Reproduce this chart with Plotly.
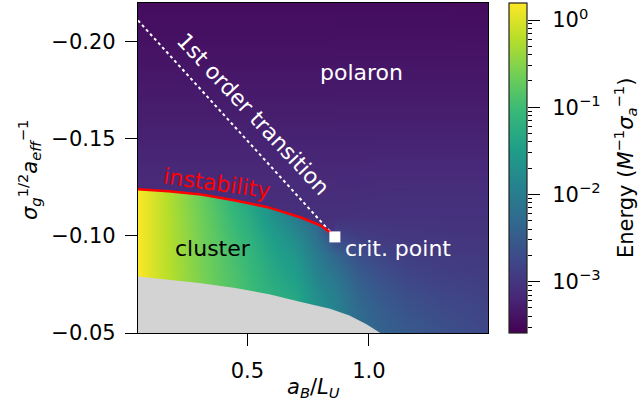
import plotly.graph_objects as go
from plotly.colors import sample_colorscale

# ---------------- data ----------------
# energy field, log10(E) in units of M^-1 sigma_a^-1, on a coarse grid
grid_x = [0.05, 0.12, 0.2, 0.3, 0.4, 0.5, 0.6, 0.7, 0.78, 0.86, 0.95, 1.05, 1.15, 1.3, 1.49]
grid_y = [-0.22, -0.19, -0.16, -0.14, -0.13, -0.12, -0.11, -0.10, -0.09, -0.08, -0.07, -0.06, -0.05]
log_energy = [
    [0.18, -0.05, -0.33, -0.66, -1.00, -1.36, -1.82, -2.25, -2.50, -3.47, -3.47, -3.47, -3.47, -3.47, -3.48],
    [0.18, -0.05, -0.33, -0.66, -1.00, -1.36, -1.82, -2.25, -2.50, -3.38, -3.38, -3.38, -3.38, -3.38, -3.38],
    [0.18, -0.05, -0.33, -0.66, -1.00, -1.36, -1.82, -2.25, -2.50, -3.27, -3.27, -3.27, -3.27, -3.27, -3.27],
    [0.18, -0.05, -0.33, -0.66, -1.00, -1.36, -1.82, -2.25, -2.50, -3.19, -3.19, -3.18, -3.18, -3.18, -3.18],
    [0.18, -0.05, -0.33, -0.66, -1.00, -1.36, -1.82, -2.25, -2.50, -3.15, -3.14, -3.13, -3.13, -3.13, -3.13],
    [0.18, -0.05, -0.33, -0.66, -1.00, -1.36, -1.82, -2.25, -2.50, -3.11, -3.10, -3.09, -3.08, -3.08, -3.08],
    [0.18, -0.05, -0.31, -0.63, -0.93, -1.24, -1.66, -2.05, -2.35, -3.07, -3.04, -3.04, -3.04, -3.04, -3.04],
    [0.18, -0.05, -0.30, -0.60, -0.88, -1.14, -1.50, -1.80, -2.17, -2.80, -2.90, -2.95, -2.98, -3.00, -3.01],
    [0.18, -0.05, -0.29, -0.58, -0.83, -1.06, -1.39, -1.62, -2.00, -2.36, -2.66, -2.80, -2.89, -2.94, -2.96],
    [0.18, -0.05, -0.28, -0.56, -0.80, -1.01, -1.29, -1.50, -1.86, -2.13, -2.48, -2.66, -2.79, -2.87, -2.91],
    [0.18, -0.05, -0.28, -0.55, -0.78, -0.97, -1.20, -1.37, -1.72, -1.98, -2.35, -2.55, -2.68, -2.79, -2.86],
    [0.18, -0.05, -0.28, -0.55, -0.77, -0.95, -1.16, -1.33, -1.62, -1.88, -2.27, -2.46, -2.59, -2.71, -2.81],
    [0.18, -0.05, -0.28, -0.55, -0.77, -0.95, -1.14, -1.30, -1.55, -1.80, -2.20, -2.40, -2.52, -2.64, -2.76],
]

# polaron branch (above the instability line), log10(E) versus y
polaron_y = [-0.22, -0.19, -0.16, -0.14, -0.13, -0.12, -0.11, -0.10]
polaron_log_energy = [-3.47, -3.38, -3.27, -3.19, -3.15, -3.11, -3.07, -3.03]

# instability line
instability_x = [0.05, 0.175, 0.31, 0.45, 0.59, 0.72, 0.80, 0.845]
instability_y = [-0.124, -0.123, -0.1213, -0.1183, -0.1146, -0.1095, -0.1055, -0.1015]

# first order transition line
transition_x = [0.05, 0.86]
transition_y = [-0.211, -0.0995]

# critical point
crit_x = [0.86]
crit_y = [-0.0995]

# boundary of the region without solution (grey)
nosol_x = [0.05, 0.175, 0.31, 0.45, 0.59, 0.72, 0.84, 0.92, 0.99, 1.047]
nosol_y = [-0.0791, -0.0775, -0.0756, -0.0732, -0.0700, -0.0660, -0.0625, -0.0590, -0.0545, -0.0500]

# colour range (log10 E)
LOG_E_MIN, LOG_E_MAX = -3.59, 0.195
cbar_major = [1e-3, 1e-2, 1e-1, 1.0]
cbar_major_text = ["10<sup>−3</sup>", "10<sup>−2</sup>", "10<sup>−1</sup>", "10<sup>0</sup>"]
cbar_minor = [m * d for d in (1e-4, 1e-3, 1e-2, 1e-1) for m in range(2, 10)
              if 10 ** LOG_E_MIN <= m * d <= 10 ** LOG_E_MAX]

X_RANGE = [0.05, 1.49]
Y_RANGE = [-0.05, -0.22]

X_TITLE = "<i>a</i><sub><i>B</i></sub>/<i>L</i><sub><i>U</i></sub>"
Y_TITLE = "<i>σ</i><sub><i>g</i></sub><sup>1/2</sup><i>a</i><sub><i>eff</i></sub><sup>−1</sup>"
CB_TITLE = "Energy (<i>M</i><sup>−1</sup><i>σ</i><sub><i>a</i></sub><sup>−1</sup>)"

# ---------------- figure ----------------
FONT = "DejaVu Sans"
W, H = 642, 414
ML, MR, MT, MB = 138, 115, 3, 81
plot_w = W - ML - MR
plot_h = H - MT - MB
X_DOM_END = 350 / plot_w
CB_X0 = 371 / plot_w

def frac(v):
    return (v - LOG_E_MIN) / (LOG_E_MAX - LOG_E_MIN)

def px_to_paper_x(px):
    return (px - ML) / plot_w

def px_to_paper_y(py):
    return (H - MB - py) / plot_h

fig = go.Figure()

fig.add_trace(go.Heatmap(
    x=grid_x, y=grid_y, z=log_energy,
    colorscale="Viridis", zmin=LOG_E_MIN, zmax=LOG_E_MAX, zsmooth="best",
    hoverinfo="skip",
    colorbar=dict(x=CB_X0, xanchor="left", xpad=0, ypad=0,
                  y=0.5, yanchor="middle", len=1, lenmode="fraction",
                  thickness=18, thicknessmode="pixels",
                  outlinewidth=1.2, outlinecolor="#222",
                  ticks="", showticklabels=False),
))

# polaron branch above the instability line (sharp jump at the line)
pol_cols = sample_colorscale("Viridis", [frac(v) for v in polaron_log_energy])
span = polaron_y[-1] - polaron_y[0]
pol_scale = [[(y - polaron_y[0]) / span, c] for y, c in zip(polaron_y, pol_cols)]
fig.add_trace(go.Scatter(
    x=[X_RANGE[0], crit_x[0], crit_x[0]] + instability_x[::-1],
    y=[Y_RANGE[1], Y_RANGE[1], crit_y[0]] + instability_y[::-1],
    mode="lines", line=dict(width=0), fill="toself",
    fillgradient=dict(type="vertical", colorscale=pol_scale,
                      start=polaron_y[0], stop=polaron_y[-1]),
    hoverinfo="skip", showlegend=False,
))

# grey region
fig.add_trace(go.Scatter(
    x=nosol_x + [X_RANGE[0]], y=nosol_y + [Y_RANGE[0]],
    mode="lines", line=dict(width=0), fill="toself", fillcolor="#d3d3d3",
    hoverinfo="skip", showlegend=False,
))

fig.add_trace(go.Scatter(
    x=transition_x, y=transition_y, mode="lines",
    line=dict(color="white", width=2, dash="dot"),
    hoverinfo="skip", showlegend=False,
))
fig.add_trace(go.Scatter(
    x=instability_x, y=instability_y, mode="lines",
    line=dict(color="#ff0000", width=2.5),
    hoverinfo="skip", showlegend=False,
))
fig.add_trace(go.Scatter(
    x=crit_x, y=crit_y, mode="markers",
    marker=dict(symbol="square", size=11, color="white", line=dict(width=0)),
    hoverinfo="skip", showlegend=False,
))

# invisible trace holding the colour-bar axis
fig.add_trace(go.Scatter(x=[None], y=[None], xaxis="x2", yaxis="y2",
                         hoverinfo="skip", showlegend=False))

ann_font = dict(family=FONT, size=22)
annotations = [
    dict(x=0.971, y=-0.184, text="polaron", font=dict(ann_font, color="white")),
    dict(x=0.357, y=-0.0934, text="cluster", font=dict(ann_font, color="black")),
    dict(x=1.12, y=-0.0934, text="crit. point", font=dict(ann_font, color="white")),
    dict(x=0.377, y=-0.1269, text="instability", textangle=8, font=dict(ann_font, color="#ff0000")),
    dict(x=0.525, y=-0.1624, text="1st order transition", textangle=47, font=dict(ann_font, color="white")),
]
for a in annotations:
    a.update(xref="x", yref="y", showarrow=False, xanchor="center", yanchor="middle")

title_font = dict(family=FONT, size=21, color="black")
annotations += [
    dict(xref="paper", yref="paper", x=px_to_paper_x(313), y=px_to_paper_y(388),
         text=X_TITLE, showarrow=False, xanchor="center", yanchor="middle", font=title_font),
    dict(xref="paper", yref="paper", x=px_to_paper_x(29), y=px_to_paper_y(170),
         text=Y_TITLE, textangle=-90, showarrow=False, xanchor="center", yanchor="middle",
         font=title_font),
    dict(xref="paper", yref="paper", x=px_to_paper_x(625), y=px_to_paper_y(168),
         text=CB_TITLE, textangle=-90, showarrow=False, xanchor="center", yanchor="middle",
         font=title_font),
]

tick_font = dict(family=FONT, size=21, color="black")
axis_common = dict(showline=True, linecolor="black", linewidth=1.3, mirror=True,
                   ticks="outside", ticklen=12, tickwidth=1.3, tickcolor="black",
                   showgrid=False, zeroline=False, tickfont=tick_font)

fig.update_layout(
    width=W, height=H,
    margin=dict(l=ML, r=MR, t=MT, b=MB, pad=0),
    paper_bgcolor="white", plot_bgcolor="white",
    font=dict(family=FONT, color="black"),
    showlegend=False,
    annotations=annotations,
    xaxis=dict(axis_common, domain=[0, X_DOM_END], range=X_RANGE,
               tickvals=[0.5, 1.0], tickformat=".1f", ticklabelstandoff=7),
    yaxis=dict(axis_common, range=Y_RANGE,
               tickvals=[-0.20, -0.15, -0.10, -0.05], tickformat=".2f", ticklabelstandoff=5),
    xaxis2=dict(domain=[CB_X0, 1.0], range=[0, 1], visible=False, anchor="y2"),
    yaxis2=dict(domain=[0, 1], anchor="x2", side="right", type="log",
                range=[LOG_E_MIN, LOG_E_MAX],
                tickvals=cbar_major, ticktext=cbar_major_text, ticklabelstandoff=8,
                ticks="outside", ticklen=12, tickwidth=1.3, tickcolor="black",
                minor=dict(tickmode="array", tickvals=cbar_minor, ticks="outside",
                           ticklen=4, tickwidth=1, tickcolor="black"),
                showline=False, showgrid=False, zeroline=False, tickfont=tick_font),
)

fig.write_html("out.html", config={"displayModeBar": False},
               post_script="document.body.style.margin='0';")
